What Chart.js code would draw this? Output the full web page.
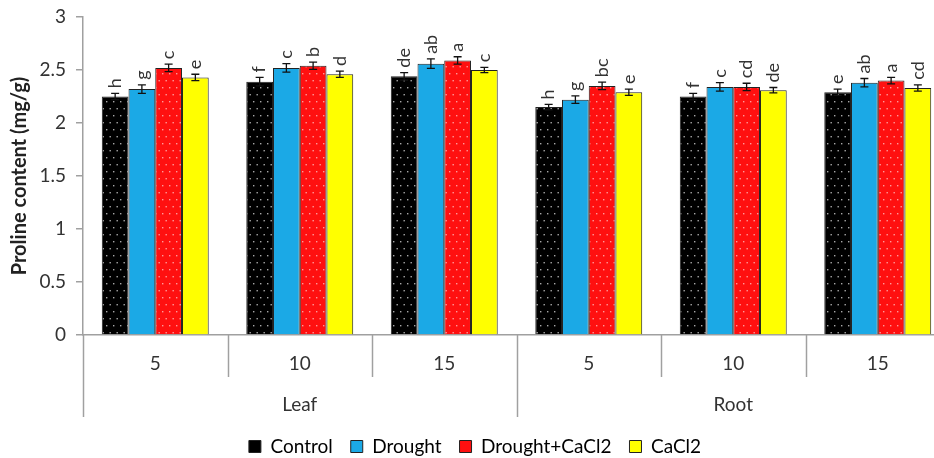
<!DOCTYPE html>
<html>
<head>
<meta charset="utf-8">
<script src="https://cdn.jsdelivr.net/npm/chart.js@4.4.1/dist/chart.umd.min.js"></script>
<style>
  html, body { margin: 0; padding: 0; background: #fff; overflow: hidden; }
  #chart { display: block; }
</style>
</head>
<body>
<canvas id="chart" width="950" height="458"></canvas>
<script>
// Proline content by organ / day and treatment

const dayLabels = ['5', '10', '15', '5', '10', '15'];
const organLabels = ['Leaf', 'Root'];
const seriesNames = ['Control', 'Drought', 'Drought+CaCl2', 'CaCl2'];
const yTicks = [0, 0.5, 1, 1.5, 2, 2.5, 3];

const controlValues = [2.25, 2.39, 2.44, 2.15, 2.25, 2.29];
const droughtValues = [2.32, 2.52, 2.56, 2.22, 2.34, 2.38];
const droughtCaValues = [2.52, 2.54, 2.59, 2.35, 2.34, 2.40];
const caValues = [2.43, 2.46, 2.50, 2.29, 2.31, 2.33];

const controlErrors = [0.03, 0.04, 0.035, 0.025, 0.03, 0.03];
const droughtErrors = [0.04, 0.04, 0.045, 0.035, 0.04, 0.04];
const droughtCaErrors = [0.035, 0.035, 0.035, 0.035, 0.035, 0.03];
const caErrors = [0.03, 0.03, 0.025, 0.03, 0.025, 0.03];

const controlLetters = ['h', 'f', 'de', 'h', 'f', 'e'];
const droughtLetters = ['g', 'c', 'ab', 'g', 'c', 'ab'];
const droughtCaLetters = ['c', 'b', 'a', 'bc', 'cd', 'a'];
const caLetters = ['e', 'd', 'c', 'e', 'de', 'cd'];

const FONT = 'Lato, "Open Sans", sans-serif';
const solidColors = ['#000000', '#1ba9e6', '#ff1010', '#ffff00'];

// dotted fill like the original
function dotPattern(base, dot) {
  const c = document.createElement('canvas');
  c.width = 7;
  c.height = 14;
  const g = c.getContext('2d');
  g.fillStyle = base;
  g.fillRect(0, 0, 7, 14);
  g.fillStyle = dot;
  g.fillRect(1, 3, 1.4, 1.4);
  g.fillRect(4.5, 10, 1.4, 1.4);
  return g.createPattern(c, 'repeat');
}

const fills = [
  dotPattern('#000000', '#a8a8a8'),
  solidColors[1],
  dotPattern('#ff1010', '#ff9a9a'),
  solidColors[3]
];

const allValues = [controlValues, droughtValues, droughtCaValues, caValues];
const allErrors = [controlErrors, droughtErrors, droughtCaErrors, caErrors];
const allLetters = [controlLetters, droughtLetters, droughtCaLetters, caLetters];

// error bars + significance letters
const errorBarPlugin = {
  id: 'errorBars',
  afterDatasetsDraw(chart) {
    const ctx = chart.ctx;
    const y = chart.scales.y;
    ctx.save();
    chart.data.datasets.forEach((ds, di) => {
      const meta = chart.getDatasetMeta(di);
      meta.data.forEach((bar, i) => {
        const v = allValues[di][i];
        const e = allErrors[di][i];
        const yHi = y.getPixelForValue(v + e);
        const yLo = y.getPixelForValue(v - e);
        ctx.strokeStyle = '#111';
        ctx.lineWidth = 1.3;
        ctx.beginPath();
        ctx.moveTo(bar.x, yHi); ctx.lineTo(bar.x, yLo);
        ctx.moveTo(bar.x - 4, yHi); ctx.lineTo(bar.x + 4, yHi);
        ctx.moveTo(bar.x - 4, yLo); ctx.lineTo(bar.x + 4, yLo);
        ctx.stroke();

        ctx.save();
        ctx.translate(bar.x, yHi - 5);
        ctx.rotate(-Math.PI / 2);
        ctx.fillStyle = '#333';
        ctx.font = '18px ' + FONT;
        ctx.textAlign = 'left';
        ctx.textBaseline = 'middle';
        ctx.fillText(allLetters[di][i], 0, 0);
        ctx.restore();
      });
    });
    ctx.restore();
  }
};

// category separators below the x axis, and a tighter legend box
const separatorPlugin = {
  id: 'separators',
  beforeLayout(chart) {
    const legend = chart.legend;
    if (legend && !legend._trimmed) {
      const fit = legend.fit;
      legend.fit = function () {
        fit.call(this);
        this.height -= 8;
      };
      legend._trimmed = true;
    }
  },
  afterDraw(chart) {
    const ctx = chart.ctx;
    const xs = chart.scales.x;
    const bottom = chart.chartArea.bottom;
    const step = xs.width / dayLabels.length;
    ctx.save();
    ctx.strokeStyle = '#a0a0a0';
    ctx.lineWidth = 1.5;
    for (let i = 0; i <= dayLabels.length; i++) {
      const px = Math.round(xs.left + i * step) + 0.5;
      const long = i % 3 === 0;
      ctx.beginPath();
      ctx.moveTo(px, bottom);
      ctx.lineTo(px, bottom + (long ? 82 : 42));
      ctx.stroke();
    }
    ctx.restore();
  }
};

const datasets = seriesNames.map((name, i) => ({
  label: name,
  data: allValues[i],
  backgroundColor: fills[i],
  borderColor: '#222',
  borderWidth: 1,
  barPercentage: 1,
  categoryPercentage: 0.74
}));

new Chart(document.getElementById('chart'), {
  type: 'bar',
  data: { labels: dayLabels, datasets: datasets },
  options: {
    responsive: false,
    animation: false,
    layout: { padding: { top: 17, left: 0, right: 0, bottom: 0 } },
    plugins: {
      tooltip: { enabled: false },
      legend: {
        position: 'bottom',
        labels: {
          boxWidth: 12,
          boxHeight: 12,
          padding: 18,
          color: '#333',
          font: { family: FONT, size: 19 },
          generateLabels: (chart) => seriesNames.map((name, i) => ({
            text: name,
            fillStyle: solidColors[i],
            strokeStyle: '#222',
            lineWidth: 1,
            datasetIndex: i
          }))
        }
      }
    },
    scales: {
      x: {
        grid: { display: false },
        border: { color: '#a0a0a0', width: 1.5 },
        ticks: { color: '#333', padding: 9, font: { family: FONT, size: 19 } },
        afterFit(scale) { scale.height = 42; }
      },
      x2: {
        type: 'category',
        labels: organLabels,
        position: 'bottom',
        grid: { display: false },
        border: { display: false },
        ticks: { color: '#333', padding: 8, font: { family: FONT, size: 19 } },
        afterFit(scale) { scale.height = 42; }
      },
      y: {
        min: 0,
        max: 3,
        afterBuildTicks(scale) { scale.ticks = yTicks.map(v => ({ value: v })); },
        grid: { drawOnChartArea: false, drawTicks: true, tickLength: 7, color: '#a0a0a0', lineWidth: 1.5 },
        border: { color: '#a0a0a0', width: 1.5 },
        ticks: {
          color: '#333',
          padding: 10,
          font: { family: FONT, size: 19 },
          callback: (v) => String(v)
        },
        title: {
          display: true,
          text: 'Proline content (mg/g)',
          color: '#222',
          font: { family: FONT, size: 20, weight: 'bold' },
          padding: { top: 8, bottom: 0 }
        },
        afterFit(scale) {
          scale.width = 83;
          scale.paddingTop = 0;
          scale.paddingBottom = 0;
        }
      }
    }
  },
  plugins: [errorBarPlugin, separatorPlugin]
});
</script>
</body>
</html>
